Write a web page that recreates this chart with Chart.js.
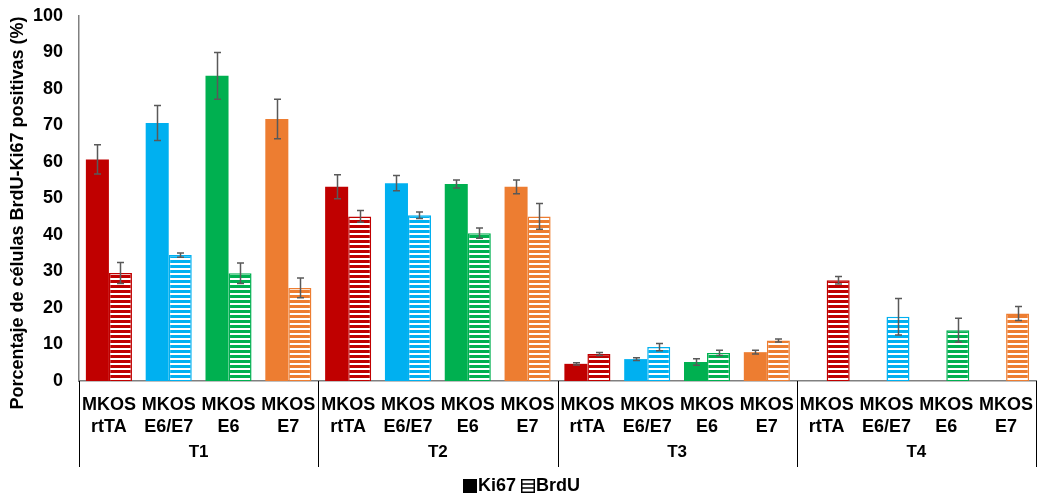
<!DOCTYPE html>
<html>
<head>
<meta charset="utf-8">
<script src="https://cdn.jsdelivr.net/npm/chart.js@4"></script>
<style>
  html, body { margin: 0; padding: 0; background: #fff; }
  #wrap { width: 1037px; height: 495px; }
</style>
</head>
<body>
<div id="wrap"><canvas id="myChart" width="1037" height="495"></canvas></div>
<script>
// data
const groups = ['T1', 'T2', 'T3', 'T4'];
const lines = [['MKOS', 'rtTA'], ['MKOS', 'E6/E7'], ['MKOS', 'E6'], ['MKOS', 'E7']];
const labels = groups.flatMap(() => lines);
const ki67 = [60.7, 70.7, 83.6, 71.8, 53.2, 54.2, 54.0, 53.2, 4.7, 6.0, 5.2, 7.9, null, null, null, null];
const ki67Err = [4.0, 4.8, 6.4, 5.4, 3.3, 2.1, 1.1, 1.9, 0.3, 0.4, 0.9, 0.5, null, null, null, null];
const brdu = [29.6, 34.5, 29.5, 25.5, 45.1, 45.4, 40.5, 45.1, 7.4, 9.3, 7.7, 11.1, 27.6, 17.6, 13.9, 18.5];
const brduErr = [2.9, 0.6, 2.8, 2.7, 1.6, 0.9, 1.4, 3.5, 0.4, 1.0, 0.7, 0.4, 1.0, 5.0, 3.3, 1.9];
const lineColors = ['#C00000', '#00B0F0', '#00B050', '#ED7D31'];
const yTitle = 'Porcentaje de células BrdU-Ki67 positivas (%)';

const colors = labels.map((l, i) => lineColors[i % 4]);

function stripes(color) {
    const c = document.createElement('canvas');
    c.width = 8; c.height = 5;
    const g = c.getContext('2d');
    g.fillStyle = color;
    g.fillRect(0, 0, 8, 5);
    g.fillStyle = '#ffffff';
    g.fillRect(0, 3, 8, 2);
    return g.createPattern(c, 'repeat');
}

const FONT = '"Liberation Sans", Arial, sans-serif';

const errorBars = {
    id: 'errorBars',
    afterDatasetsDraw(chart) {
        const ctx = chart.ctx;
        const y = chart.scales.y;
        const errs = [ki67Err, brduErr];
        ctx.save();
        ctx.strokeStyle = '#595959';
        ctx.lineWidth = 1.5;
        chart.data.datasets.forEach((ds, d) => {
            const meta = chart.getDatasetMeta(d);
            meta.data.forEach((bar, i) => {
                const v = ds.data[i], e = errs[d][i];
                if (v == null || e == null) return;
                const x = Math.round(bar.x) + 0.5;
                const top = y.getPixelForValue(v + e);
                const bot = y.getPixelForValue(v - e);
                ctx.beginPath();
                ctx.moveTo(x, top); ctx.lineTo(x, bot);
                ctx.moveTo(x - 3.5, top); ctx.lineTo(x + 3.5, top);
                ctx.moveTo(x - 3.5, bot); ctx.lineTo(x + 3.5, bot);
                ctx.stroke();
            });
        });
        ctx.restore();
    }
};

const groupAxis = {
    id: 'groupAxis',
    afterDraw(chart) {
        const ctx = chart.ctx;
        const area = chart.chartArea;
        const step = (area.right - area.left) / labels.length;
        ctx.save();
        ctx.strokeStyle = '#000000';
        ctx.lineWidth = 1;
        for (let g = 0; g <= groups.length; g++) {
            const px = Math.min(Math.round(area.left + g * 4 * step), 1036) + 0.5;
            ctx.beginPath();
            ctx.moveTo(px, area.bottom);
            ctx.lineTo(px, 467);
            ctx.stroke();
        }
        ctx.fillStyle = '#000000';
        ctx.font = 'bold 17px ' + FONT;
        ctx.textAlign = 'center';
        ctx.textBaseline = 'middle';
        groups.forEach((g, i) => {
            ctx.fillText(g, area.left + (i * 4 + 2) * step, 452);
        });

        // y title
        ctx.save();
        ctx.translate(18, 213);
        ctx.rotate(-Math.PI / 2);
        ctx.font = 'bold 18px ' + FONT;
        ctx.fillText(yTitle, 0, 0);
        ctx.restore();

        // legend
        ctx.font = 'bold 18px ' + FONT;
        ctx.textAlign = 'left';
        const cy = 486;
        let lx = 463;
        ctx.fillStyle = '#000000';
        ctx.fillRect(lx, cy - 7, 14, 14);
        ctx.fillText('Ki67', lx + 15, cy);
        lx = 521;
        ctx.strokeStyle = '#000000';
        ctx.lineWidth = 1.5;
        ctx.strokeRect(lx + 0.75, cy - 6.25, 12.5, 12.5);
        ctx.beginPath();
        ctx.moveTo(lx + 1, cy - 2); ctx.lineTo(lx + 13, cy - 2);
        ctx.moveTo(lx + 1, cy + 2); ctx.lineTo(lx + 13, cy + 2);
        ctx.stroke();
        ctx.fillText('BrdU', lx + 15, cy);
        ctx.restore();
    }
};

const ctx = document.getElementById('myChart').getContext('2d');
new Chart(ctx, {
    type: 'bar',
    data: {
        labels: labels,
        datasets: [
            {
                label: 'Ki67',
                data: ki67,
                backgroundColor: colors,
                borderWidth: 0,
            },
            {
                label: 'BrdU',
                data: brdu,
                backgroundColor: colors.map(c => stripes(c)),
                borderColor: colors,
                borderWidth: 1.5,
            },
        ],
    },
    options: {
        responsive: false,
        animation: false,
        layout: { padding: { top: 16, right: 1, left: 0, bottom: 0 } },
        datasets: { bar: { categoryPercentage: 0.77, barPercentage: 1.0 } },
        plugins: {
            legend: { display: false },
            tooltip: { enabled: false },
        },
        scales: {
            x: {
                type: 'category',
                grid: { display: false },
                border: { display: true, color: '#808080', width: 1.5 },
                ticks: {
                    color: '#000000',
                    font: { family: FONT, size: 18, weight: 'bold', lineHeight: 1.17 },
                    padding: 6,
                    maxRotation: 0,
                    autoSkip: false,
                },
                afterFit(scale) {
                    scale.height = 114;
                    scale.paddingLeft = 0;
                    scale.paddingRight = 0;
                },
            },
            y: {
                min: 0,
                max: 100,
                beginAtZero: true,
                grid: { display: false },
                border: { display: true, color: '#808080', width: 1.5 },
                ticks: {
                    stepSize: 10,
                    color: '#000000',
                    font: { family: FONT, size: 18, weight: 'bold' },
                    padding: 8,
                },
                afterFit(scale) {
                    scale.width = 79;
                    scale.paddingTop = 0;
                    scale.paddingBottom = 0;
                },
            },
        },
    },
    plugins: [errorBars, groupAxis],
});
</script>
</body>
</html>
